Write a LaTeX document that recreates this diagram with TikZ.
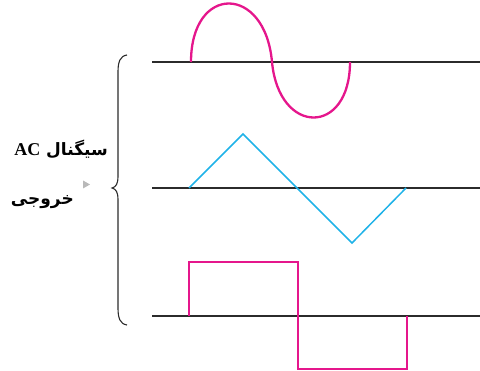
\documentclass[tikz,border=0pt]{standalone}
\usepackage{fontspec}
\setmainfont{Liberation Serif}
\newfontfamily\arabicfont[Script=Arabic]{DejaVu Sans}
\TeXXeTstate=1
\definecolor{wavemag}{HTML}{E5168C}
\definecolor{wavecyan}{HTML}{1FB2E8}
\definecolor{axisgray}{HTML}{2B2B2B}
\tikzset{
  axisline/.style={draw=axisgray, line width=1.4pt},
  sinewave/.style={draw=wavemag, line width=2.3pt},
  triwave/.style={draw=wavecyan, line width=1.5pt, line join=miter},
  sqwave/.style={draw=wavemag, line width=1.5pt, line join=miter},
  bracestyle/.style={draw=axisgray, line width=1.1pt},
  labeltext/.style={font=\fontsize{17}{19}\selectfont\bfseries, inner sep=0pt, anchor=east}
}
\begin{document}
\begin{tikzpicture}[x=1pt,y=-1pt]
\useasboundingbox (0,0) rectangle (480,371);
% axes
\coordinate (a1l) at (152,62);  \coordinate (a1r) at (480,62);
\coordinate (a2l) at (152,188); \coordinate (a2r) at (480,188);
\coordinate (a3l) at (152,316); \coordinate (a3r) at (480,316);
\draw[axisline] (a1l) -- (a1r);
\draw[axisline] (a2l) -- (a2r);
\draw[axisline] (a3l) -- (a3r);
% sine (rounded lobes)
\draw[sinewave] (191,62) .. controls (191,-16) and (265,-16) .. (272,62)
  .. controls (279,136) and (350,136) .. (350,62);
% triangle
\draw[triwave] (189,188) -- (243,134) -- (297,188) -- (352,243) -- (406,188);
% square
\draw[sqwave] (189,316) -- (189,262) -- (298,262) -- (298,369) -- (407,369) -- (407,316);
% brace
\draw[bracestyle] (127,55) .. controls (120,56) and (118,62) .. (118,72) -- (118,176)
  .. controls (118,184) and (116,187) .. (112,188)
  .. controls (116,189) and (118,192) .. (118,200) -- (118,308)
  .. controls (118,318) and (120,324) .. (127,325);
% labels
\node[labeltext] (lab1) at (108,149) {\arabicfont\beginR سیگنال \beginL{\rmfamily\fontsize{18}{20}\selectfont AC}\endL\endR};
\node[labeltext] (lab2) at (74,202) {\arabicfont\beginR خروجی\endR};
\fill[gray!55] (83,180.5) -- (90,184.5) -- (83,188.5) -- cycle;
\end{tikzpicture}
\end{document}
